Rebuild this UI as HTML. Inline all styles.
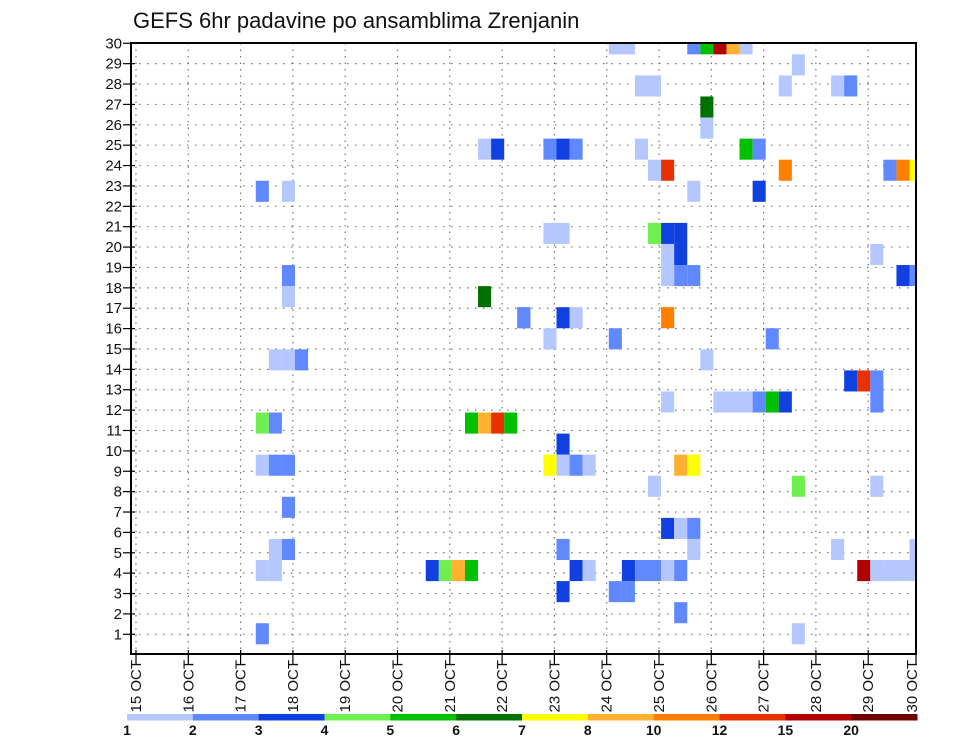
<!DOCTYPE html>
<html><head><meta charset="utf-8"><style>
html,body{margin:0;padding:0;background:#fff;}
svg{display:block;font-family:"Liberation Sans",sans-serif;}
</style></head><body>
<svg id="chart" width="960" height="742" viewBox="0 0 960 742">
<text x="133" y="28" font-size="22" fill="#111">GEFS 6hr padavine po ansamblima Zrenjanin</text>
<g id="grid"></g>
<g id="cells"></g>
<g id="axes"></g>
<g id="colorbar"></g>
</svg>
<script>
// categories
const dayLabels = ["15 OCT","16 OCT","17 OCT","18 OCT","19 OCT","20 OCT","21 OCT","22 OCT","23 OCT","24 OCT","25 OCT","26 OCT","27 OCT","28 OCT","29 OCT","30 OCT"];
const yLabels = [1,2,3,4,5,6,7,8,9,10,11,12,13,14,15,16,17,18,19,20,21,22,23,24,25,26,27,28,29,30];
const levelLabels = ["1","2","3","4","5","6","7","8","10","12","15","20"];
const levelThresholds = [1,2,3,4,5,6,7,8,10,12,15,20,30];
const levelColors = ["#b4c8ff","#6088ff","#1040e0","#70f050","#00c000","#007000","#ffff00","#ffb030","#ff8000","#e83000","#b00000","#700000"];
// series: 6-hour step index, ensemble member index, precipitation (mm)
const cellStep = [9,11,11,11,26,26,27,29,10,11,12,9,10,25,26,27,28,9,10,11,11,10,11,9,10,22,23,24,25,9,
36,37,42,43,44,45,46,50,38,39,49,53,54,43,43,31,32,33,38,46,47,39,40,49,57,58,59,42,47,31,32,39,40,41,40,41,56,40,41,42,58,59,29,32,33,40,31,36,48,
43,54,55,56,40,44,45,46,47,48,49,56,32,31,32,33,34,41,42,39,50,56,40,41,42,32,42,53,59,33,34,37,38,39,40,41,55,56,57,58,59,32,36,37,41,50];
const cellMember = [22,22,18,17,17,24,24,16,14,14,14,11,11,11,11,11,11,9,9,9,7,5,5,4,4,4,4,4,4,1,
29,29,29,29,29,29,29,28,27,27,27,27,27,26,25,24,24,24,24,24,24,23,23,23,23,23,23,22,22,20,20,20,20,20,19,19,19,18,18,18,18,18,16,16,16,16,15,15,15,
14,13,13,13,12,12,12,12,12,12,12,12,10,9,9,9,9,9,9,8,8,8,6,6,6,5,5,5,5,4,4,4,4,4,4,4,4,4,4,4,4,3,3,3,2,1];
const cellValue = [2.5,1.5,2.5,1.5,6.5,1.5,3.5,2.5,1.5,1.5,2.5,4.5,2.5,5.5,9,13.5,5.5,1.5,2.5,2.5,2.5,1.5,2.5,1.5,1.5,3.5,4.5,9,5.5,2.5,
1.5,1.5,2.5,5.5,17.5,9,1.5,1.5,1.5,1.5,1.5,1.5,2.5,6.5,1.5,2.5,3.5,2.5,1.5,5.5,2.5,1.5,13.5,11,2.5,11,7.5,1.5,3.5,1.5,1.5,4.5,3.5,3.5,1.5,3.5,1.5,1.5,2.5,2.5,3.5,2.5,2.5,3.5,1.5,11,1.5,2.5,2.5,
1.5,3.5,13.5,2.5,1.5,1.5,1.5,1.5,2.5,5.5,3.5,2.5,3.5,7.5,1.5,2.5,1.5,9,7.5,1.5,4.5,1.5,3.5,1.5,2.5,2.5,1.5,1.5,1.5,3.5,1.5,3.5,2.5,2.5,1.5,2.5,17.5,1.5,1.5,1.5,1.5,3.5,2.5,2.5,2.5,1.5];

const NS="http://www.w3.org/2000/svg";
const L=131,R=916,T=43,B=654;
const x0=136, pxPerHour=52.3/24;
function xT(h){return x0+h*pxPerHour;}
function yAxis(v){return 634.3-(v-1)*20.38;}
const cellH=21.07, cellBottom=644.3;
function yCellTop(m){return cellBottom-cellH*m;}
function colorFor(v){for(let i=0;i<levelColors.length;i++){if(v<levelThresholds[i+1])return levelColors[i];}return levelColors[levelColors.length-1];}
function mk(tag,attrs,parent){const e=document.createElementNS(NS,tag);for(const k in attrs)e.setAttribute(k,attrs[k]);parent.appendChild(e);return e;}
const grid=document.getElementById('grid'),cells=document.getElementById('cells'),axes=document.getElementById('axes'),cb=document.getElementById('colorbar');

// grid
yLabels.forEach(v=>{const y=yAxis(v);
 const g=mk('line',{x1:L,x2:R,y1:y,y2:y,stroke:'#777','stroke-width':1.2,'stroke-dasharray':'1.5 6.5'},grid);
 
 });
dayLabels.forEach((d,i)=>{const x=xT(24*i); if(x>R-2)return;
 const g=mk('line',{x1:x,x2:x,y1:T,y2:B,stroke:'#777','stroke-width':1.2,'stroke-dasharray':'1.5 5'},grid);
 
 });

// cells
const clip=mk('clipPath',{id:'pc'},document.getElementById('chart'));
mk('rect',{x:L,y:T,width:R-L,height:B-T},clip);
cells.setAttribute('clip-path','url(#pc)');
for(let i=0;i<cellStep.length;i++){
 const xl=xT(6*cellStep[i])+2.1, xr=xT(6*(cellStep[i]+1))+2.1;
 const r=mk('rect',{x:xl,y:yCellTop(cellMember[i]),width:xr-xl,height:cellH,fill:colorFor(cellValue[i])},cells);
 
 
}

// axes
const frame=mk('rect',{x:L,y:T,width:R-L,height:B-T,fill:'none',stroke:'#000','stroke-width':2},axes);


yLabels.forEach(v=>{const y=yAxis(v);
 mk('line',{x1:L-8,x2:L+4,y1:y,y2:y,stroke:'#000','stroke-width':1.2},axes);
 const t=mk('text',{x:L-9,y:y+5,'text-anchor':'end','font-size':15,fill:'#111'},axes);
 t.textContent=v;
 
 });
dayLabels.forEach((d,i)=>{let x=xT(24*i); if(x>R)x=R;
 mk('line',{x1:x,x2:x,y1:B-4,y2:B+10,stroke:'#000','stroke-width':1.2},axes);
 const tx=Math.min(x,R-4);
 const t=mk('text',{x:0,y:0,'text-anchor':'end','font-size':15,fill:'#111',transform:'translate('+(tx+5)+','+(B+6)+') rotate(-90)'},axes);
 t.textContent=d;
 
 });

// colorbar
const cbL=127,cbR=917,cbY=714,cbH=6.5,segW=(cbR-cbL)/levelColors.length;
levelColors.forEach((c,i)=>{
 const r=mk('rect',{x:cbL+i*segW,y:cbY,width:segW+0.5,height:cbH,fill:c},cb);
 
 });
levelLabels.forEach((l,i)=>{
 const t=mk('text',{x:cbL+i*segW,y:735,'text-anchor':'middle','font-size':14,'font-weight':'bold',fill:'#111'},cb);
 t.textContent=l;
 
 });
</script>
</body></html>
